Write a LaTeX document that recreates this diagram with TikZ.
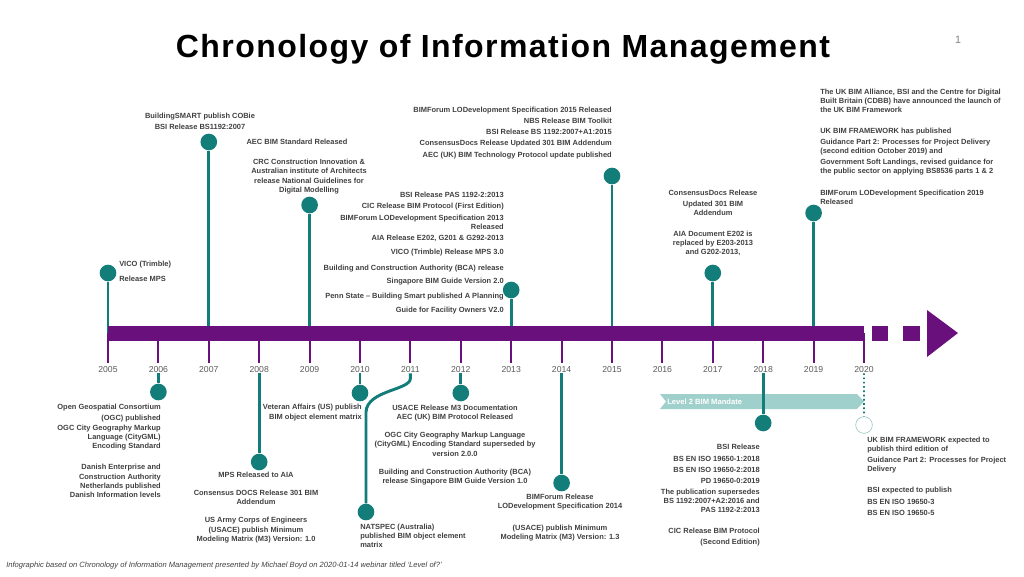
\documentclass[tikz,border=0pt]{standalone}
\usepackage{fontspec}
\setmainfont{Liberation Sans}
\newfontfamily\titlefont[LetterSpace=4.5]{Liberation Sans}
\definecolor{tlpurple}{RGB}{106,16,124}
\definecolor{tlteal}{RGB}{18,125,121}
\definecolor{tlband}{RGB}{160,208,204}
\definecolor{txtgray}{RGB}{64,64,64}
\definecolor{yrgray}{RGB}{90,90,90}
\tikzset{
  stem/.style={tlteal, line width=2.2pt},
  dot/.style={circle, fill=tlteal, minimum size=12.5pt, inner sep=0pt},
  tick/.style={tlpurple, line width=1.5pt},
  yr/.style={text=yrgray, font=\fontsize{6.5}{7}\selectfont, inner sep=0pt},
  info/.style={text=txtgray, font=\fontsize{5.6}{6.9}\selectfont\bfseries, inner sep=0pt},
}
\begin{document}
\begin{tikzpicture}[x=0.75pt, y=-0.75pt]
  \useasboundingbox (0,0) rectangle (1024,576);
  \node[font=\titlefont\fontsize{24}{26}\selectfont\bfseries, anchor=base] (title) at (503,57)
    {Chronology of Information Management};
  \node[text=gray, font=\fontsize{8}{9}\selectfont] (pg) at (958,40) {1};
  % years
  \foreach \yr [count=\i from 0] in {2005,...,2020} {
    \coordinate (t\yr) at ({108+50.4*\i},333);
    \node[yr] (y\yr) at ({108+50.4*\i},370) {\yr};
    \draw[tick] (t\yr) -- ++(0,30);
  }
  % events above
  \foreach \yr/\h in {2005/273, 2007/142, 2009/205, 2013/290, 2015/176, 2017/273, 2019/213} {
    \node[dot] (d\yr) at (t\yr |- 0,\h) {};
    \draw[stem] (d\yr) -- (t\yr);
  }
  \fill[tlpurple] (108,326) rectangle (864,341);
  \fill[tlpurple] (872,326) rectangle (888,341);
  \fill[tlpurple] (903,326) rectangle (920,341);
  \fill[tlpurple] (927,310) -- (958,333) -- (927,357) -- cycle;
  % level 2 band
  \fill[tlband] (660,394) -- (857,394) -- (864,401.5) -- (857,409) -- (660,409) -- (666,401.5) -- cycle;
  \node[font=\fontsize{5.7}{6}\selectfont\bfseries, text=white, anchor=west, inner sep=0pt] (l2) at (667,401.5) {Level 2 BIM Mandate};
  % events below
  \foreach \yr/\h in {2006/392, 2008/462, 2010/393, 2012/393, 2014/483, 2018/423} {
    \node[dot] (d\yr) at (t\yr |- 0,\h) {};
    \draw[stem] (y\yr.south) -- (d\yr);
  }
  \node[dot] (d2011) at (366,512) {};
  \draw[stem] (y2011.south) -- ++(0,5) .. controls ++(0,12) and (367,390) .. (366,412) -- (d2011);
  \node[circle, draw=tlteal!50, fill=white, minimum size=12.5pt, inner sep=0pt] (d2020) at (864,425) {};
  \draw[tlteal, dotted, line width=1.2pt] (y2020.south) -- (d2020);
  % texts above
  \node[info, anchor=west, align=left] (i2005) at (119,271.5) {VICO (Trimble)\\[4.3pt]Release MPS};
  \node[info, align=center] (i2007) at (200,121.5) {BuildingSMART publish COBie\\[1.4pt]BSI Release BS1192:2007};
  \node[info] (i2009a) at (297,142) {AEC BIM Standard Released};
  \node[info, align=center] (i2009b) at (309,176.5) {CRC Construction Innovation \&\\Australian institute of Architects\\release National Guidelines for\\Digital Modelling};
  \node[info, align=right, anchor=east] (i2013) at (504,253) {BSI Release PAS 1192-2:2013\\[1.4pt]CIC Release BIM Protocol (First Edition)\\[1.4pt]BIMForum LODevelopment Specification 2013\\Released\\[1.4pt]AIA Release E202, G201 \& G292-2013\\[3.6pt]VICO (Trimble) Release MPS 3.0\\[5pt]Building and Construction Authority (BCA) release\\[2.8pt]Singapore BIM Guide Version 2.0\\[4.3pt]Penn State – Building Smart published A Planning\\[3.6pt]Guide for Facility Owners V2.0};
  \node[info, align=right, anchor=east] (i2015) at (612,133) {BIMForum LODevelopment Specification 2015 Released\\[1.4pt]NBS Release BIM Toolkit\\[1.4pt]BSI Release BS 1192:2007+A1:2015\\[1.4pt]ConsensusDocs Release Updated 301 BIM Addendum\\[1.4pt]AEC (UK) BIM Technology Protocol update published};
  \node[info, align=center] (i2017) at (713,223) {ConsensusDocs Release\\[1.4pt]Updated 301 BIM\\Addendum\\[8.8pt]AIA Document E202 is\\replaced by E203-2013\\and G202-2013,};
  \node[info, align=left, anchor=west] (i2019) at (820,146.5) {The UK BIM Alliance, BSI and the Centre for Digital\\Built Britain (CDBB) have announced the launch of\\the UK BIM Framework\\[9pt]UK BIM FRAMEWORK has published\\[1.4pt]Guidance Part 2: Processes for Project Delivery\\(second edition October 2019) and\\[0.7pt]Government Soft Landings, revised guidance for\\the public sector on applying BS8536 parts 1 \& 2\\[9.5pt]BIMForum LODevelopment Specification 2019\\Released};
  % texts below
  \node[info, align=right, anchor=east] (i2006) at (161,451) {Open Geospatial Consortium\\[0.7pt](OGC) published\\[0.7pt]OGC City Geography Markup\\Language (CityGML)\\Encoding Standard\\[9pt]Danish Enterprise and\\Construction Authority\\Netherlands published\\Danish Information levels};
  \node[info, align=center] (i2008) at (256,507.5) {MPS Released to AIA\\[6.6pt]Consensus DOCS Release 301 BIM\\Addendum\\[6.6pt]US Army Corps of Engineers\\(USACE) publish Minimum\\Modeling Matrix (M3) Version: 1.0};
  \node[info, align=right, anchor=east] (i2010) at (362,412.5) {Veteran Affairs (US) publish\\BIM object element matrix};
  \node[info, align=left, anchor=west] (i2011) at (360,536) {NATSPEC (Australia)\\published BIM object element\\matrix};
  \node[info, align=center] (i2012) at (455,445) {USACE Release M3 Documentation\\AEC (UK) BIM Protocol Released\\[6.6pt]OGC City Geography Markup Language\\(CityGML) Encoding Standard superseded by\\version 2.0.0\\[6.6pt]Building and Construction Authority (BCA)\\release Singapore BIM Guide Version 1.0};
  \node[info, align=center] (i2014) at (560,517.5) {BIMForum Release\\LODevelopment Specification 2014\\[9pt](USACE) publish Minimum\\Modeling Matrix (M3) Version: 1.3};
  \node[info, align=right, anchor=east] (i2018) at (760,495.5) {BSI Release\\[1.4pt]BS EN ISO 19650-1:2018\\[1.4pt]BS EN ISO 19650-2:2018\\[1.4pt]PD 19650-0:2019\\[1.4pt]The publication supersedes\\BS 1192:2007+A2:2016 and\\PAS 1192-2:2013\\[9pt]CIC Release BIM Protocol\\[1.4pt](Second Edition)};
  \node[info, align=left, anchor=west] (i2020) at (867,476) {UK BIM FRAMEWORK expected to\\publish third edition of\\[1.4pt]Guidance Part 2: Processes for Project\\Delivery\\[9pt]BSI expected to publish\\[1.4pt]BS EN ISO 19650-3\\[1.4pt]BS EN ISO 19650-5};
  \node[font=\fontsize{5.7}{6}\selectfont\itshape, text=txtgray, anchor=west, inner sep=0pt] (src) at (6,566) {Infographic based on Chronology of Information Management presented by Michael Boyd on 2020-01-14 webinar titled ‘Level of?’};
\end{tikzpicture}
\end{document}
